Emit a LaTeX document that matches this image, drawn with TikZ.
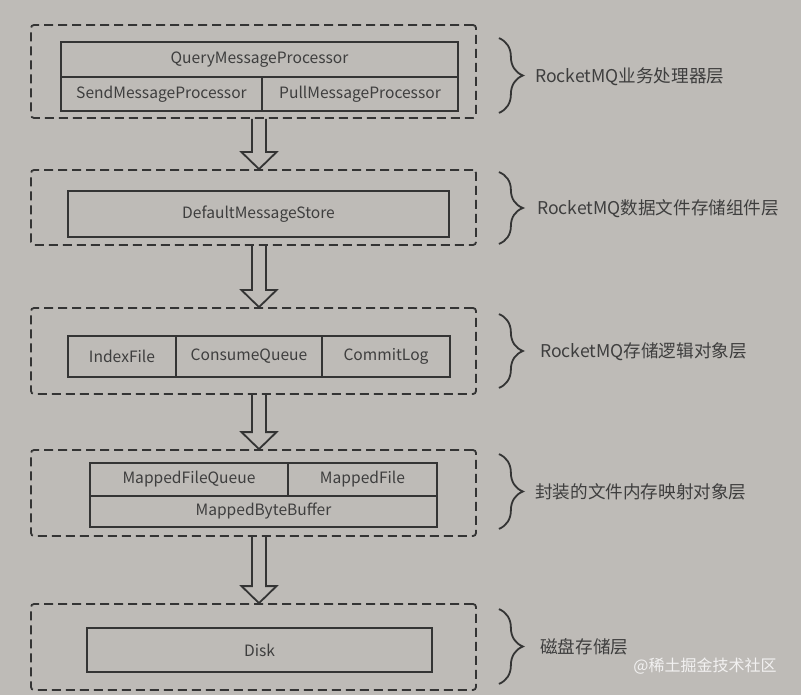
\documentclass[tikz,border=0pt]{standalone}
\usepackage{fontspec}
\setmainfont{Noto Sans CJK SC}
\usetikzlibrary{calc,decorations.pathreplacing}
\definecolor{bggray}{RGB}{190,187,183}
\definecolor{inkgray}{RGB}{52,52,52}
\definecolor{txtgray}{RGB}{62,62,62}
\tikzset{
  layerbox/.style={draw=inkgray, line width=1.8pt, dash pattern=on 9pt off 5pt,
    rounded corners=3pt, minimum width=445pt, inner sep=0pt},
  cell/.style={draw=inkgray, line width=1.5pt, inner sep=0pt, text=txtgray,
    font=\fontsize{15.6}{17}\selectfont},
  hollow/.style={draw=inkgray, line width=1.8pt, line join=miter},
  layerbrace/.style={draw=inkgray, line width=1.8pt, decorate,
    decoration={brace, amplitude=24pt}},
  layername/.style={anchor=west, inner sep=0pt, text=txtgray,
    font=\fontsize{17.6}{19}\selectfont}
}

\begin{document}
\begin{tikzpicture}[x=1pt, y=-1pt]
		\fill[bggray] (0,0) rectangle (801,695);
		\useasboundingbox (0,0) rectangle (801,695);
		\coordinate (ax) at (259,0);
		%% dashed layers
		\node [layerbox, minimum height=93pt] (l1) at (253.5,71.5) {};
		\node [layerbox, minimum height=75pt] (l2) at (253.5,207.5) {};
		\node [layerbox, minimum height=86pt] (l3) at (253.5,351) {};
		\node [layerbox, minimum height=86pt] (l4) at (253.5,493) {};
		\node [layerbox, minimum height=86pt] (l5) at (253.5,647) {};
		%% processors
		\node [cell, minimum width=397pt, minimum height=35pt] (query) at (259.5,59.5) {QueryMessageProcessor};
		\node [cell, minimum width=201pt, minimum height=34pt] (send) at (161.5,94) {SendMessageProcessor};
		\node [cell, minimum width=196pt, minimum height=34pt] (pull) at (360,94) {PullMessageProcessor};
		%% store
		\node [cell, minimum width=381pt, minimum height=46pt] (store) at (258.5,214) {DefaultMessageStore};
		%% logic objects
		\node [cell, minimum width=108pt, minimum height=41pt] (index) at (122,356.5) {IndexFile};
		\node [cell, minimum width=146pt, minimum height=41pt] (consume) at (249,356.5) {ConsumeQueue};
		\node [cell, minimum width=128pt, minimum height=41pt] (commit) at (386,356.5) {CommitLog};
		%% mapped files
		\node [cell, minimum width=198pt, minimum height=33pt] (mfqueue) at (189,479.5) {MappedFileQueue};
		\node [cell, minimum width=149pt, minimum height=33pt] (mfile) at (362.5,479.5) {MappedFile};
		\node [cell, minimum width=347pt, minimum height=31pt] (mbuffer) at (263.5,511.5) {MappedByteBuffer};
		%% disk
		\node [cell, minimum width=345pt, minimum height=44pt] (disk) at (259.5,650) {Disk};
		%% hollow arrows
		\foreach \a/\b in {l1/l2,l2/l3,l3/l4,l4/l5}
			\draw [hollow] ($(\a.south -| ax)+(-7,0)$) -- ($(\b.north -| ax)+(-7,-17)$)
				-- ($(\b.north -| ax)+(-17.5,-17)$) -- (\b.north -| ax)
				-- ($(\b.north -| ax)+(17.5,-17)$) -- ($(\b.north -| ax)+(7,-17)$)
				-- ($(\a.south -| ax)+(7,0)$);
		%% braces
		\foreach \l/\up/\dn in {l1/14/6,l2/3/2,l3/7/7,l4/5/8,l5/6/7}
			\draw [layerbrace] ($(\l.north east)+(22,\up)$) -- ($(\l.south east)+(22,-\dn)$);
		\node [layername] (lab1) at (535,77) {RocketMQ业务处理器层};
		\node [layername] (lab2) at (537,209) {RocketMQ数据文件存储组件层};
		\node [layername] (lab3) at (540,352) {RocketMQ存储逻辑对象层};
		\node [layername] (lab4) at (535,492) {封装的文件内存映射对象层};
		\node [layername] (lab5) at (540,647) {磁盘存储层};
		\node [font=\fontsize{16}{18}\selectfont, text=white!80!bggray] (mark) at (705,666) {@稀土掘金技术社区};
		\end{tikzpicture}
\end{document}
